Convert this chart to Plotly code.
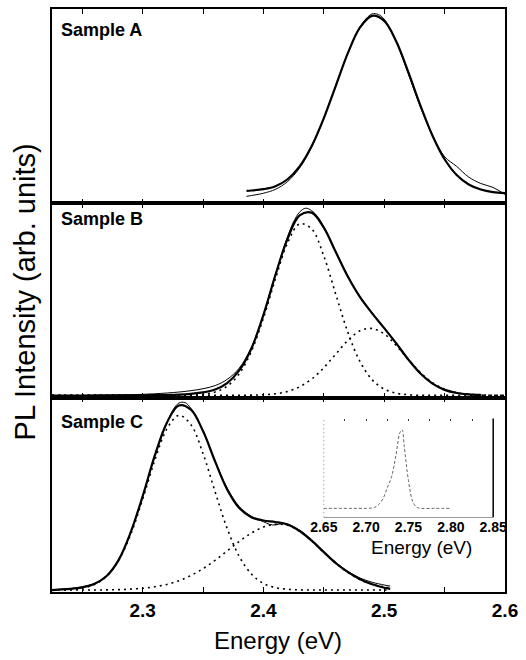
import plotly.graph_objects as go

# ---------------- data ----------------
# Sample A
E_A_fit = [2.386, 2.39, 2.40, 2.41, 2.42, 2.43, 2.44, 2.45, 2.46, 2.47, 2.48, 2.49,
           2.50, 2.51, 2.52, 2.53, 2.54, 2.55, 2.56, 2.57, 2.58, 2.59, 2.60]
I_A_fit = [0.064, 0.066, 0.073, 0.088, 0.124, 0.190, 0.295, 0.438, 0.606, 0.774, 0.905, 0.965,
           0.939, 0.833, 0.675, 0.503, 0.348, 0.227, 0.146, 0.097, 0.071, 0.058, 0.053]
E_A_data = [2.386, 2.39, 2.40, 2.41, 2.42, 2.43, 2.44, 2.45, 2.46, 2.47, 2.48, 2.485, 2.49,
            2.495, 2.50, 2.51, 2.52, 2.53, 2.54, 2.55, 2.56, 2.57, 2.58, 2.59, 2.60]
I_A_data = [0.036, 0.040, 0.052, 0.072, 0.112, 0.182, 0.290, 0.436, 0.604, 0.776, 0.908, 0.950, 0.975,
            0.972, 0.948, 0.830, 0.665, 0.495, 0.350, 0.240, 0.190, 0.135, 0.102, 0.082, 0.046]

# Sample B
E_B_fit = [2.225, 2.25, 2.27, 2.29, 2.31, 2.33, 2.34, 2.35, 2.36, 2.37, 2.38, 2.39, 2.40, 2.41,
           2.42, 2.43, 2.44, 2.45, 2.46, 2.47, 2.48, 2.49, 2.50, 2.51, 2.52, 2.53, 2.54, 2.55,
           2.56, 2.57, 2.58]
I_B_fit = [0.010, 0.011, 0.012, 0.012, 0.013, 0.016, 0.020, 0.027, 0.042, 0.075, 0.140, 0.252, 0.425, 0.632,
           0.818, 0.938, 0.952, 0.875, 0.748, 0.622, 0.517, 0.434, 0.358, 0.279, 0.196, 0.124, 0.072, 0.040,
           0.024, 0.017, 0.014]
E_B_data = [2.225, 2.25, 2.27, 2.29, 2.31, 2.33, 2.34, 2.35, 2.36, 2.37, 2.38, 2.39, 2.40, 2.41,
            2.42, 2.425, 2.43, 2.435, 2.44, 2.445, 2.45, 2.46, 2.47, 2.48, 2.49, 2.50, 2.51, 2.52,
            2.53, 2.54, 2.55, 2.56, 2.57, 2.582]
I_B_data = [0.008, 0.010, 0.012, 0.015, 0.020, 0.029, 0.036, 0.046, 0.062, 0.094, 0.152, 0.258, 0.428, 0.635,
            0.828, 0.905, 0.955, 0.975, 0.962, 0.930, 0.880, 0.752, 0.625, 0.520, 0.438, 0.360, 0.282, 0.198,
            0.126, 0.074, 0.042, 0.025, 0.017, 0.013]
E_B_comp = [2.225, 2.25, 2.30, 2.33, 2.34, 2.35, 2.36, 2.37, 2.38, 2.39, 2.40, 2.41, 2.42, 2.43,
            2.44, 2.45, 2.46, 2.47, 2.48, 2.49, 2.50, 2.51, 2.52, 2.53, 2.54, 2.55, 2.56, 2.57,
            2.58, 2.59, 2.60]
I_B_comp1 = [0.012, 0.012, 0.012, 0.012, 0.013, 0.017, 0.029, 0.059, 0.123, 0.238, 0.409, 0.612, 0.796, 0.894,
             0.868, 0.729, 0.530, 0.335, 0.185, 0.092, 0.044, 0.023, 0.015, 0.012, 0.012, 0.012, 0.012, 0.012,
             0.012, 0.012, 0.012]
I_B_comp2 = [0.012, 0.012, 0.012, 0.012, 0.012, 0.012, 0.012, 0.012, 0.012, 0.013, 0.015, 0.020, 0.032, 0.056,
             0.096, 0.154, 0.225, 0.295, 0.344, 0.356, 0.328, 0.268, 0.196, 0.129, 0.077, 0.044, 0.026, 0.018,
             0.014, 0.012, 0.012]

# Sample C
E_C = [2.225, 2.23, 2.24, 2.25, 2.26, 2.27, 2.28, 2.29, 2.30, 2.31, 2.32, 2.33, 2.34, 2.35,
       2.36, 2.37, 2.38, 2.39, 2.40, 2.41, 2.42, 2.43, 2.44, 2.45, 2.46, 2.47, 2.48, 2.49,
       2.50, 2.505]
I_C_fit = [0.010, 0.012, 0.016, 0.024, 0.041, 0.081, 0.163, 0.305, 0.492, 0.700, 0.870, 0.960, 0.938, 0.828,
           0.672, 0.528, 0.432, 0.385, 0.368, 0.360, 0.347, 0.314, 0.264, 0.205, 0.148, 0.102, 0.066, 0.040,
           0.022, 0.016]
I_C_comp1 = [0.010, 0.011, 0.013, 0.020, 0.038, 0.080, 0.161, 0.294, 0.476, 0.675, 0.838, 0.909, 0.861, 0.713,
             0.516, 0.327, 0.183, 0.093, 0.044, 0.022, 0.014, 0.011, 0.010, 0.010, 0.010, 0.010, 0.010, 0.010,
             0.010, 0.010]
I_C_comp2 = [0.010, 0.010, 0.010, 0.010, 0.010, 0.011, 0.012, 0.015, 0.019, 0.027, 0.039, 0.058, 0.085, 0.120,
             0.163, 0.211, 0.260, 0.303, 0.334, 0.349, 0.343, 0.312, 0.263, 0.204, 0.148, 0.100, 0.064, 0.040,
             0.026, 0.022]
E_C_data = [2.225, 2.23, 2.24, 2.25, 2.26, 2.27, 2.28, 2.29, 2.30, 2.31, 2.32, 2.325, 2.33, 2.335,
            2.34, 2.35, 2.36, 2.37, 2.38, 2.39, 2.40, 2.405, 2.41, 2.415, 2.42, 2.43, 2.44, 2.45,
            2.46, 2.47, 2.48, 2.49, 2.50, 2.505]
I_C_data = [0.012, 0.013, 0.017, 0.026, 0.044, 0.084, 0.165, 0.303, 0.488, 0.695, 0.868, 0.935, 0.972, 0.975,
            0.945, 0.830, 0.675, 0.535, 0.440, 0.390, 0.362, 0.348, 0.345, 0.352, 0.350, 0.318, 0.268, 0.208,
            0.152, 0.106, 0.072, 0.050, 0.036, 0.030]

# Inset
E_inset = [2.650, 2.660, 2.670, 2.680, 2.690, 2.700, 2.705, 2.710, 2.715, 2.720, 2.725, 2.730,
           2.735, 2.740, 2.7425, 2.745, 2.750, 2.755, 2.760, 2.765, 2.780, 2.800]
I_inset = [0.09, 0.09, 0.09, 0.09, 0.09, 0.09, 0.092, 0.10, 0.13, 0.19, 0.30, 0.41,
           0.62, 0.86, 0.886, 0.72, 0.37, 0.16, 0.10, 0.09, 0.09, 0.09]

main_tick_vals = [2.25, 2.30, 2.35, 2.40, 2.45, 2.50, 2.55, 2.60]
main_tick_text = ["", "2.3", "", "2.4", "", "2.5", "", "2.6"]
inset_tick_vals = [2.65, 2.70, 2.75, 2.80, 2.85]
inset_tick_text = ["2.65", "2.70", "2.75", "2.80", "2.85"]
inset_top_ticks = [2.65, 2.675, 2.70, 2.725, 2.75, 2.775, 2.80, 2.825, 2.85]

sample_labels = ["Sample A", "Sample B", "Sample C"]

# ---------------- layout geometry ----------------
FONT = "Liberation Sans, Arial, Helvetica, sans-serif"
W, H = 526, 660
ML, MR, MT, MB = 52, 14, 7, 68
PW, PH = W - ML - MR, H - MT - MB


def px_x(px):
    return (px - ML) / PW


def px_y(py):
    return (H - MB - py) / PH


fig = go.Figure()

fit_line = dict(color="black", width=2.2)
data_line = dict(color="black", width=1)
dot_line = dict(color="black", width=1.6, dash="2px,4px")

# Panel A
fig.add_trace(go.Scatter(x=E_A_fit, y=I_A_fit, mode="lines", line=dict(**fit_line, shape="spline"),
                         xaxis="x", yaxis="y"))
fig.add_trace(go.Scatter(x=E_A_data, y=I_A_data, mode="lines", line=dict(**data_line, shape="spline"),
                         xaxis="x", yaxis="y"))
# Panel B
fig.add_trace(go.Scatter(x=E_B_comp, y=I_B_comp1, mode="lines", line=dict(**dot_line, shape="spline"),
                         xaxis="x2", yaxis="y2"))
fig.add_trace(go.Scatter(x=E_B_comp, y=I_B_comp2, mode="lines", line=dict(**dot_line, shape="spline"),
                         xaxis="x2", yaxis="y2"))
fig.add_trace(go.Scatter(x=E_B_fit, y=I_B_fit, mode="lines", line=dict(**fit_line, shape="spline"),
                         xaxis="x2", yaxis="y2"))
fig.add_trace(go.Scatter(x=E_B_data, y=I_B_data, mode="lines", line=dict(**data_line, shape="spline"),
                         xaxis="x2", yaxis="y2"))
# Panel C
fig.add_trace(go.Scatter(x=E_C, y=I_C_comp1, mode="lines", line=dict(**dot_line, shape="spline"),
                         xaxis="x3", yaxis="y3"))
fig.add_trace(go.Scatter(x=E_C, y=I_C_comp2, mode="lines", line=dict(**dot_line, shape="spline"),
                         xaxis="x3", yaxis="y3"))
fig.add_trace(go.Scatter(x=E_C, y=I_C_fit, mode="lines", line=dict(**fit_line, shape="spline"),
                         xaxis="x3", yaxis="y3"))
fig.add_trace(go.Scatter(x=E_C_data, y=I_C_data, mode="lines", line=dict(**data_line, shape="spline"),
                         xaxis="x3", yaxis="y3"))
# Inset
fig.add_trace(go.Scatter(x=E_inset, y=I_inset, mode="lines",
                         line=dict(color="#666666", width=1, dash="3px,2px", shape="spline"),
                         xaxis="x4", yaxis="y4"))
fig.add_trace(go.Scatter(x=E_inset, y=I_inset, mode="lines", line=dict(color="rgba(0,0,0,0)", width=0),
                         xaxis="x5", yaxis="y4", hoverinfo="skip"))

xcommon = dict(range=[2.225, 2.6], showline=True, linecolor="black", linewidth=1.5, mirror="ticks",
               ticks="inside", ticklen=5, tickwidth=1.2, tickcolor="black",
               tickvals=main_tick_vals, ticktext=main_tick_text,
               showgrid=False, zeroline=False)
ycommon = dict(range=[0, 1], showline=True, linecolor="black", linewidth=1.5, mirror=True,
               ticks="", showticklabels=False, showgrid=False, zeroline=False)

fig.update_layout(
    width=W, height=H,
    margin=dict(l=ML, r=MR, t=MT, b=MB, pad=0),
    paper_bgcolor="white", plot_bgcolor="rgba(0,0,0,0)",
    showlegend=False,
    font=dict(family=FONT, color="black"),
    xaxis=dict(**xcommon, anchor="y", showticklabels=False, matches="x3"),
    xaxis2=dict(**xcommon, anchor="y2", showticklabels=False, matches="x3"),
    xaxis3=dict(**xcommon, anchor="y3", showticklabels=True,
                tickfont=dict(size=19, family=FONT, weight="bold", color="black")),
    yaxis=dict(**ycommon, domain=[2 / 3, 1], anchor="x"),
    yaxis2=dict(**ycommon, domain=[1 / 3, 2 / 3], anchor="x2"),
    yaxis3=dict(**ycommon, domain=[0, 1 / 3], anchor="x3"),
    xaxis4=dict(domain=[px_x(328), px_x(500)], range=[2.65, 2.85], anchor="y4",
                showline=True, linecolor="#999999", linewidth=1, ticks="",
                tickvals=inset_tick_vals, ticktext=inset_tick_text, ticklabelstandoff=-3,
                tickfont=dict(size=14, family=FONT, weight="bold", color="black"),
                showgrid=False, zeroline=False),
    xaxis5=dict(overlaying="x4", side="top", anchor="y4", range=[2.65, 2.85], matches="x4",
                showline=False, ticks="inside", ticklen=2, tickwidth=1, tickcolor="#333333",
                tickvals=inset_top_ticks, showticklabels=False, showgrid=False, zeroline=False),
    yaxis4=dict(domain=[px_y(517), px_y(418)], range=[0, 1], anchor="x4", showline=False,
                ticks="", showticklabels=False, showgrid=False, zeroline=False),
)

# inset frame sides
fig.add_shape(type="line", xref="x4 domain", yref="y4 domain", x0=0, x1=0, y0=0, y1=1,
              line=dict(color="#888888", width=1, dash="1px,3px"))
fig.add_shape(type="line", xref="x4 domain", yref="y4 domain", x0=1, x1=1, y0=0, y1=1,
              line=dict(color="black", width=1.5))

label_y = [px_y(28), px_y(218), px_y(421)]
for txt, yy in zip(sample_labels, label_y):
    fig.add_annotation(text=txt, xref="paper", yref="paper", x=px_x(59), y=yy,
                       xanchor="left", yanchor="middle", showarrow=False,
                       font=dict(size=18, family=FONT, weight="bold", color="black"))

fig.add_annotation(text="PL Intensity (arb. units)", xref="paper", yref="paper",
                   x=px_x(25), y=px_y(291), textangle=-90, showarrow=False,
                   xanchor="center", yanchor="middle",
                   font=dict(size=29, family=FONT, color="black"))
fig.add_annotation(text="Energy (eV)", xref="paper", yref="paper",
                   x=px_x(281), y=px_y(641), showarrow=False,
                   xanchor="center", yanchor="middle",
                   font=dict(size=24, family=FONT, color="black"))
fig.add_annotation(text="Energy (eV)", xref="paper", yref="paper",
                   x=px_x(427), y=px_y(547), showarrow=False,
                   xanchor="center", yanchor="middle",
                   font=dict(size=19, family=FONT, color="black"))

fig.write_html("out.html")
